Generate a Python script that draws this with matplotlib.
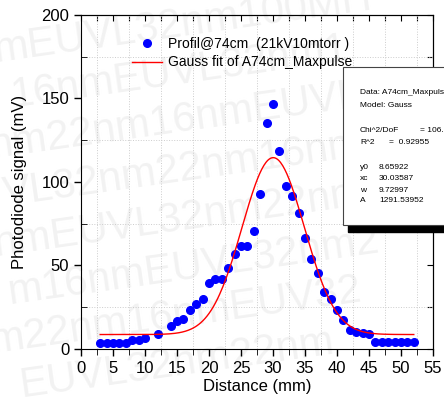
# Gaussian fit of photodiode profile at 74 cm

import numpy as np
import matplotlib.pyplot as plt
from matplotlib.patches import Rectangle

plt.rcParams['font.family'] = ['Liberation Sans', 'DejaVu Sans']

distance = [3, 4, 5, 6, 7, 8, 9, 10, 12, 14, 15, 16, 17, 18, 19, 20, 21, 22,
            23, 24, 25, 26, 27, 28, 29, 30, 31, 32, 33, 34, 35, 36, 37, 38,
            39, 40, 41, 42, 43, 44, 45, 46, 47, 48, 49, 50, 51, 52]
signal = [3.6, 3.6, 3.7, 3.7, 3.8, 5.2, 5.6, 6.6, 9.2, 13.8, 16.6, 17.8, 23.4,
          27.2, 30.0, 39.6, 41.8, 41.8, 48.5, 56.9, 61.7, 61.7, 70.6, 92.7,
          135.5, 146.7, 118.6, 97.6, 91.6, 81.6, 66.6, 53.7, 45.7, 34.3, 29.8,
          23.4, 17.4, 11.4, 10.4, 9.4, 9.0, 4.2, 4.0, 4.0, 4.0, 4.0, 4.0, 4.0]

# Gauss fit parameters (Origin form)
y0 = 8.65922
xc = 30.03587
w = 9.72997
A = 1291.53952
chi2 = "106."
r2 = 0.92955

x_fit = np.linspace(3, 52, 300)
y_fit = y0 + A / (w * np.sqrt(np.pi / 2)) * np.exp(-2 * (x_fit - xc) ** 2 / w ** 2)

fig = plt.figure(figsize=(4.44, 4.05), dpi=100)

ax = fig.add_axes([0.1824, 0.1383, 0.7928, 0.8247])
ax.set_facecolor('none')

# faint watermark behind the plot
wm_rows = ["mEUVL32nm100MH", "16nmEUVL32nm1", "nm22nm16nmEUVL", "VL32nm22nm16nm",
           "nmEUVL32nm22nm", "m16nmEUVL32nm2", "m22nm16nmEUV32", "EUVL32nm22nm"]
wm_x = [-0.02, 0.02, -0.03, 0.0, -0.02, 0.01, -0.03, 0.04]
for i, row in enumerate(wm_rows):
    ax.text(wm_x[i], 0.94 - i * 0.12, row, fontsize=30, color='#f2f2f2',
            rotation=8, zorder=0, ha='left', va='center',
            transform=fig.transFigure, clip_on=False)

ax.plot(distance, signal, 'o', color='#0000ff', markersize=5.5,
        label='Profil@74cm  (21kV10mtorr )', zorder=3)
ax.plot(x_fit, y_fit, color='red', linewidth=1,
        label='Gauss fit of A74cm_Maxpulse', zorder=4)

ax.set_xlim(0, 55)
ax.set_ylim(0, 200)
ax.set_xticks(np.arange(0, 56, 5))
ax.set_xticks(np.arange(2.5, 55, 5), minor=True)
ax.set_yticks(np.arange(0, 201, 50))
ax.set_yticks(np.arange(25, 200, 50), minor=True)
ax.grid(True, which='minor', color='#cccccc', linestyle=':', linewidth=0.7)

ax.tick_params(axis='both', which='major', labelsize=12, length=5, width=1)
ax.tick_params(axis='x', which='major', direction='out')
ax.tick_params(axis='x', which='minor', direction='out', length=4)
ax.tick_params(axis='y', which='major', direction='out')
ax.tick_params(axis='y', which='minor', direction='in', length=4)

top = ax.secondary_xaxis('top')
top.set_xticks(np.arange(0, 56, 2.5))
top.tick_params(direction='in', length=4, labeltop=False)
right = ax.secondary_yaxis('right')
right.set_yticks(np.arange(0, 201, 25))
right.tick_params(direction='in', length=4, labelright=False)

ax.set_xlabel('Distance (mm)', fontsize=12, labelpad=2)
ax.set_ylabel('Photodiode signal (mV)', fontsize=12, labelpad=10)

ax.legend(loc='upper left', bbox_to_anchor=(0.13, 0.95), frameon=False,
          fontsize=10, handlelength=2.15, handletextpad=0.4,
          borderaxespad=0, labelspacing=0.3)

# fit report box with shadow
fw, fh = 444.0, 405.0
bx, by, bw, bh = 343, 67, 120, 158
fig.patches.append(Rectangle(((bx + 5) / fw, 1 - (by + bh + 7) / fh), bw / fw, bh / fh,
                             transform=fig.transFigure, facecolor='black',
                             edgecolor='black', zorder=10))
fig.patches.append(Rectangle((bx / fw, 1 - (by + bh) / fh), bw / fw, bh / fh,
                             transform=fig.transFigure, facecolor='white',
                             edgecolor='#444444', linewidth=0.8, zorder=11))

def box_text(px, py, s):
    fig.text(px / fw, 1 - py / fh, s, fontsize=6, ha='left', va='center', zorder=12)

box_text(360, 93, 'Data: A74cm_Maxpulse')
box_text(360, 105.5, 'Model: Gauss')
box_text(360, 130.5, 'Chi^2/DoF')
box_text(420, 130.5, '= ' + chi2)
box_text(360, 142.5, 'R^2')
box_text(389, 142.5, '=  {:.5f}'.format(r2))
box_text(360, 168, 'y0')
box_text(379, 168, '{:.5f}'.format(y0))
box_text(360, 179, 'xc')
box_text(379, 179, '{:.5f}'.format(xc))
box_text(360, 190, 'w')
box_text(379, 190, '{:.5f}'.format(w))
box_text(360, 201, 'A')
box_text(379, 201, '{:.5f}'.format(A))

fig.savefig('out.png', dpi=100)
